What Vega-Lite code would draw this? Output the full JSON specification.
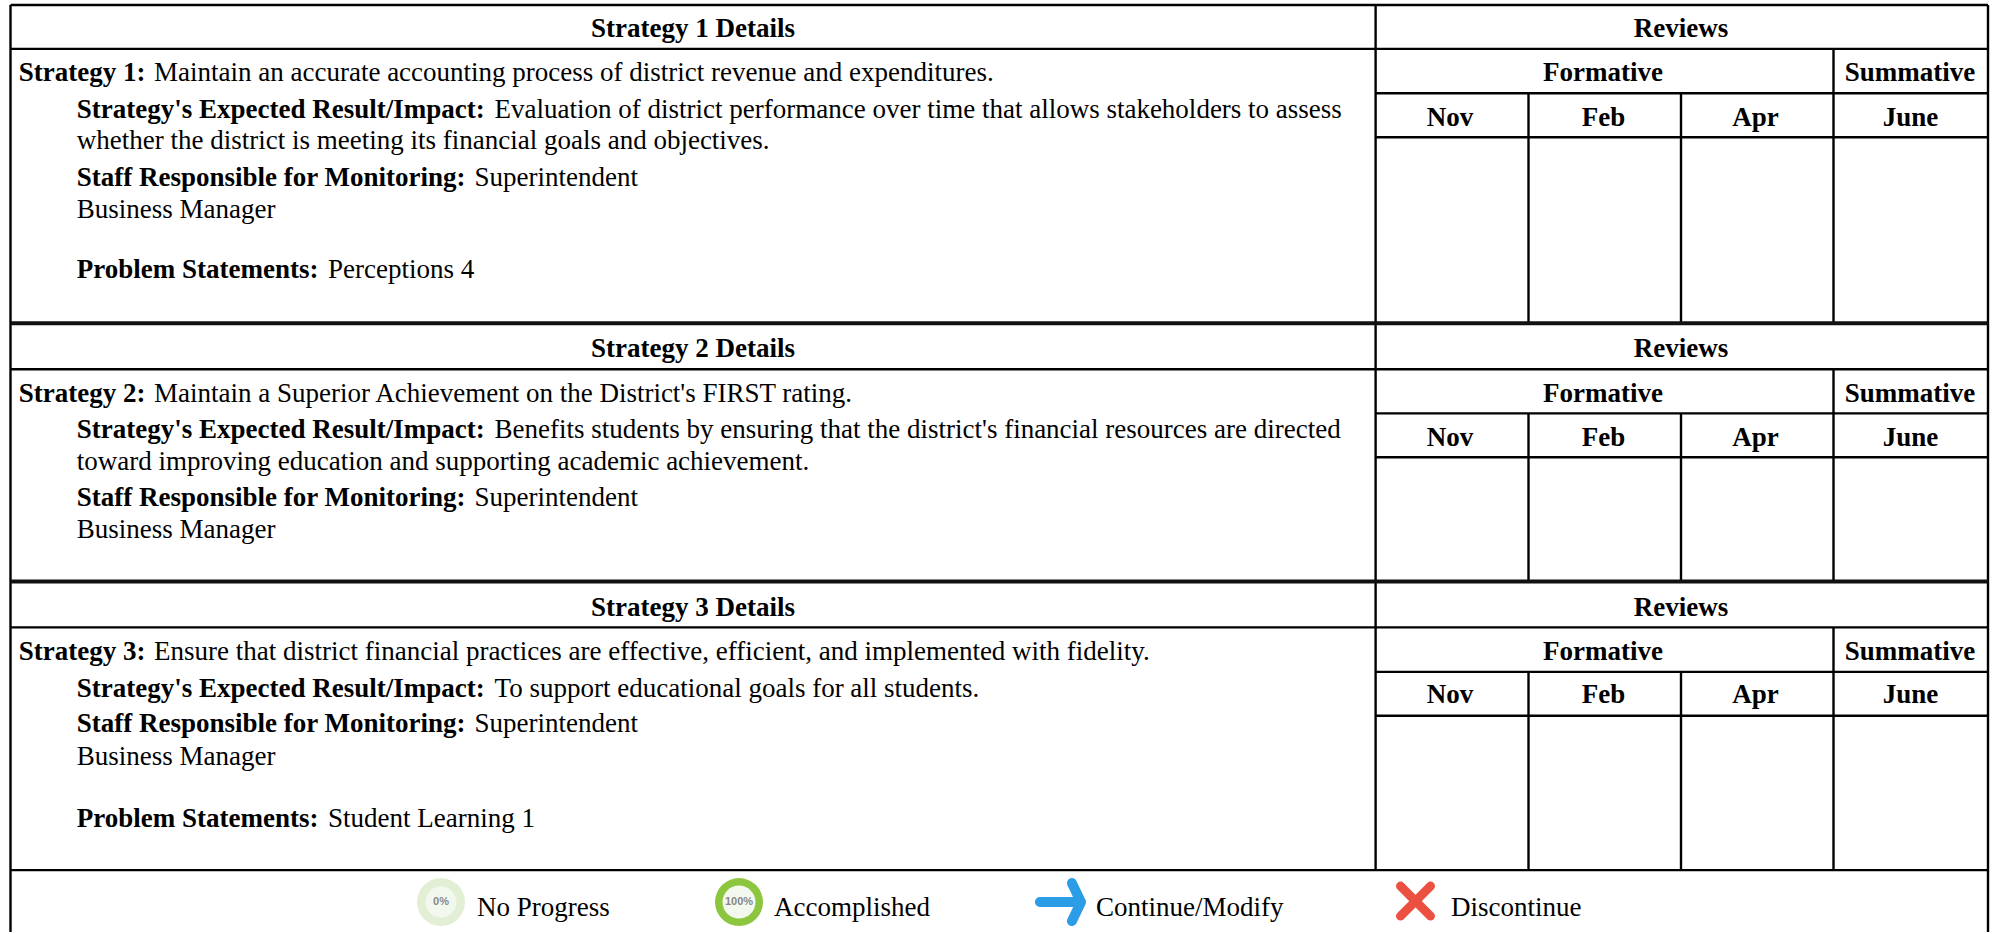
{
"$schema":"https://vega.github.io/schema/vega-lite/v6.json",
"width":1997,"height":934,"padding":0,
"autosize":{"type":"fit","contains":"padding"},
"background":"white",
"config":{"view":{"stroke":null}},
"datasets":{
"grid":[
{"x":10.5,"x2":1988,"y":5,"y2":5},
{"x":10.5,"x2":1988,"y":49,"y2":49},
{"x":1375.6,"x2":1988,"y":93.5,"y2":93.5},
{"x":1375.6,"x2":1988,"y":137.5,"y2":137.5},
{"x":10.5,"x2":1988,"y":370,"y2":370},
{"x":1375.6,"x2":1988,"y":414.3,"y2":414.3},
{"x":1375.6,"x2":1988,"y":458.3,"y2":458.3},
{"x":10.5,"x2":1988,"y":628.7,"y2":628.7},
{"x":1375.6,"x2":1988,"y":673.3,"y2":673.3},
{"x":1375.6,"x2":1988,"y":717.3,"y2":717.3},
{"x":10.5,"x2":1988,"y":872,"y2":872},
{"x":10.5,"x2":10.5,"y":5,"y2":934},
{"x":1988,"x2":1988,"y":5,"y2":934},
{"x":1375.6,"x2":1375.6,"y":5,"y2":872},
{"x":1833.5,"x2":1833.5,"y":49,"y2":324},
{"x":1528.5,"x2":1528.5,"y":93.5,"y2":324},
{"x":1681,"x2":1681,"y":93.5,"y2":324},
{"x":1833.5,"x2":1833.5,"y":370,"y2":582.7},
{"x":1528.5,"x2":1528.5,"y":414.3,"y2":582.7},
{"x":1681,"x2":1681,"y":414.3,"y2":582.7},
{"x":1833.5,"x2":1833.5,"y":628.7,"y2":872},
{"x":1528.5,"x2":1528.5,"y":673.3,"y2":872},
{"x":1681,"x2":1681,"y":673.3,"y2":872}
],
"dividers":[
{"x":10.5,"x2":1988,"y":324,"y2":324},
{"x":10.5,"x2":1988,"y":582.7,"y2":582.7}
],
"heads":[
{"x":693,"y":37.5,"text":"Strategy 1 Details"},
{"x":1681,"y":37.5,"text":"Reviews"},
{"x":1603,"y":81.5,"text":"Formative"},
{"x":1910,"y":81.5,"text":"Summative"},
{"x":1450,"y":126,"text":"Nov"},
{"x":1603.5,"y":126,"text":"Feb"},
{"x":1755.6,"y":126,"text":"Apr"},
{"x":1910.6,"y":126,"text":"June"},
{"x":693,"y":358,"text":"Strategy 2 Details"},
{"x":1681,"y":358,"text":"Reviews"},
{"x":1603,"y":402.5,"text":"Formative"},
{"x":1910,"y":402.5,"text":"Summative"},
{"x":1450,"y":447,"text":"Nov"},
{"x":1603.5,"y":447,"text":"Feb"},
{"x":1755.6,"y":447,"text":"Apr"},
{"x":1910.6,"y":447,"text":"June"},
{"x":693,"y":617,"text":"Strategy 3 Details"},
{"x":1681,"y":617,"text":"Reviews"},
{"x":1603,"y":661,"text":"Formative"},
{"x":1910,"y":661,"text":"Summative"},
{"x":1450,"y":705,"text":"Nov"},
{"x":1603.5,"y":705,"text":"Feb"},
{"x":1755.6,"y":705,"text":"Apr"},
{"x":1910.6,"y":705,"text":"June"}
],
"labels":[
{"x":18.7,"y":81.5,"text":"Strategy 1:"},
{"x":76.8,"y":118,"text":"Strategy's Expected Result/Impact:"},
{"x":76.8,"y":186.5,"text":"Staff Responsible for Monitoring:"},
{"x":76.8,"y":279,"text":"Problem Statements:"},
{"x":18.7,"y":402.5,"text":"Strategy 2:"},
{"x":76.8,"y":439,"text":"Strategy's Expected Result/Impact:"},
{"x":76.8,"y":507,"text":"Staff Responsible for Monitoring:"},
{"x":18.7,"y":661,"text":"Strategy 3:"},
{"x":76.8,"y":698,"text":"Strategy's Expected Result/Impact:"},
{"x":76.8,"y":734,"text":"Staff Responsible for Monitoring:"},
{"x":76.8,"y":828.5,"text":"Problem Statements:"}
],
"body":[
{"x":154,"y":81.5,"text":"Maintain an accurate accounting process of district revenue and expenditures."},
{"x":494.6,"y":118,"text":"Evaluation of district performance over time that allows stakeholders to assess"},
{"x":76.8,"y":149.5,"text":"whether the district is meeting its financial goals and objectives."},
{"x":474.6,"y":186.5,"text":"Superintendent"},
{"x":76.8,"y":218,"text":"Business Manager"},
{"x":328,"y":279,"text":"Perceptions 4"},
{"x":154,"y":402.5,"text":"Maintain a Superior Achievement on the District's FIRST rating."},
{"x":494.6,"y":439,"text":"Benefits students by ensuring that the district's financial resources are directed"},
{"x":76.8,"y":471,"text":"toward improving education and supporting academic achievement."},
{"x":474.6,"y":507,"text":"Superintendent"},
{"x":76.8,"y":539,"text":"Business Manager"},
{"x":154,"y":661,"text":"Ensure that district financial practices are effective, efficient, and implemented with fidelity."},
{"x":494.6,"y":698,"text":"To support educational goals for all students."},
{"x":474.6,"y":734,"text":"Superintendent"},
{"x":76.8,"y":767,"text":"Business Manager"},
{"x":328,"y":828.5,"text":"Student Learning 1"},
{"x":477,"y":918,"text":"No Progress"},
{"x":774,"y":918,"text":"Accomplished"},
{"x":1096,"y":918,"text":"Continue/Modify"},
{"x":1451,"y":918,"text":"Discontinue"}
],
"rings":[
{"x":441,"y":904,"part":"ring empty"},
{"x":441,"y":904,"part":"core empty"},
{"x":739,"y":904,"part":"ring full"},
{"x":739,"y":904,"part":"core full"}
],
"percent":[
{"x":441,"y":904,"text":"0%"},
{"x":739,"y":904,"text":"100%"}
],
"arrow":[{"x":1061,"y":904}],
"cross":[{"x":1415.5,"y":903}]
},
"encoding":{
"x":{"field":"x","type":"quantitative","scale":{"domain":[0,1997],"nice":false,"zero":false},"axis":null},
"y":{"field":"y","type":"quantitative","scale":{"domain":[934,0],"nice":false,"zero":false},"axis":null}
},
"layer":[
{"data":{"name":"grid"},"mark":{"type":"rule","color":"#000","strokeWidth":2.4},
"encoding":{"x2":{"field":"x2"},"y2":{"field":"y2"}}},
{"data":{"name":"dividers"},"mark":{"type":"rule","color":"#111","strokeWidth":4},
"encoding":{"x2":{"field":"x2"},"y2":{"field":"y2"}}},
{"data":{"name":"heads"},"mark":{"type":"text","font":"Liberation Serif","fontWeight":"bold","fontSize":27,"align":"center","baseline":"alphabetic","color":"#000"},
"encoding":{"text":{"field":"text"}}},
{"data":{"name":"labels"},"mark":{"type":"text","font":"Liberation Serif","fontWeight":"bold","fontSize":27,"align":"left","baseline":"alphabetic","color":"#000"},
"encoding":{"text":{"field":"text"}}},
{"data":{"name":"body"},"mark":{"type":"text","font":"Liberation Serif","fontSize":27,"align":"left","baseline":"alphabetic","color":"#000"},
"encoding":{"text":{"field":"text"}}},
{"data":{"name":"rings"},"mark":{"type":"circle","opacity":1},
"encoding":{
"color":{"field":"part","type":"nominal","legend":null,"scale":{"domain":["ring empty","core empty","ring full","core full"],"range":["#E2EFD5","#F3F8EE","#8CC63F","#F3F8EE"]}},
"size":{"field":"part","type":"nominal","legend":null,"scale":{"type":"ordinal","domain":["ring empty","core empty","ring full","core full"],"range":[2304,961,2304,1089]}}
}},
{"data":{"name":"percent"},"mark":{"type":"text","font":"Liberation Sans","fontWeight":"bold","fontSize":11,"align":"center","baseline":"middle","color":"#888888"},
"encoding":{"text":{"field":"text"}}},
{"data":{"name":"arrow"},"mark":{"type":"point","filled":false,"opacity":1,"size":2704,"stroke":"#2B9CE6","strokeWidth":10,"strokeCap":"round","strokeJoin":"round","shape":"M-0.81 0L0.77 0M0.42 -0.73L0.77 0L0.42 0.73"}},
{"data":{"name":"cross"},"mark":{"type":"point","filled":false,"opacity":1,"size":900,"stroke":"#EC5040","strokeWidth":9,"strokeCap":"round","shape":"M-1 -1L1 1M-1 1L1 -1"}}
]
}
